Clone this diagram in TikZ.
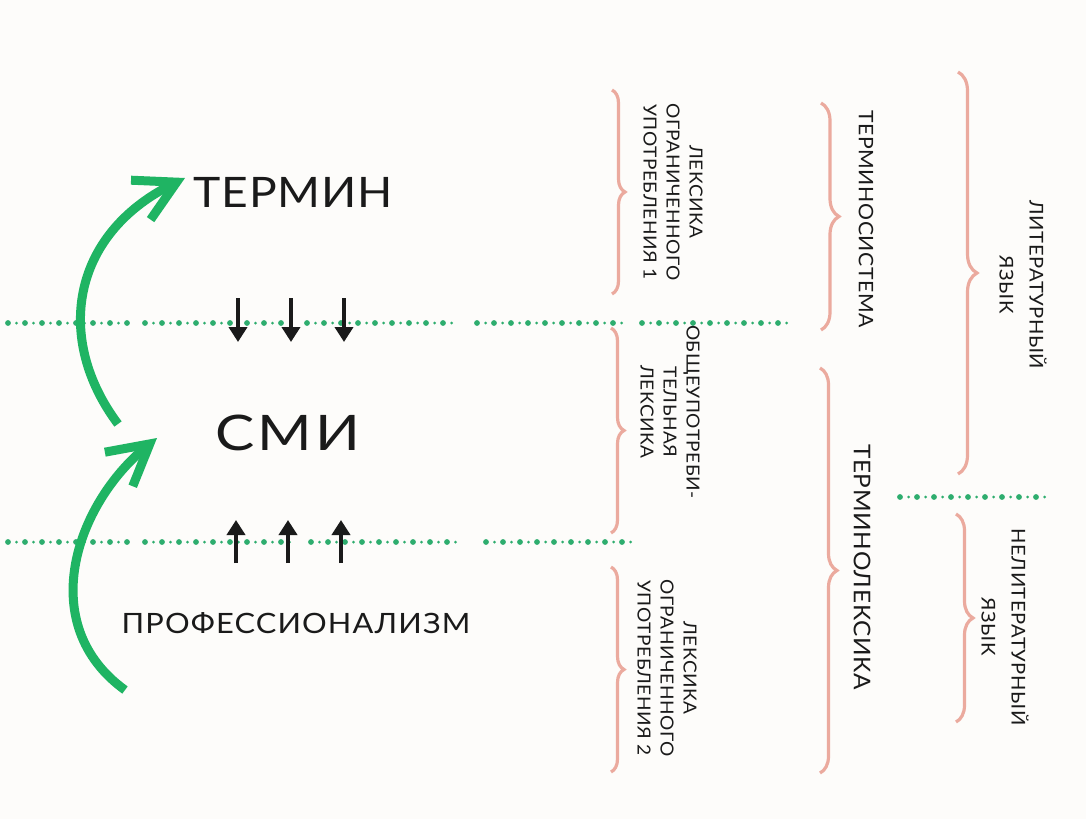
\documentclass[tikz,border=0pt]{standalone}
\usepackage{fontspec}
\setmainfont{Lato}
\usetikzlibrary{positioning, arrows.meta, decorations.pathreplacing}
\definecolor{paper}{HTML}{FDFCFA}
\definecolor{arcgreen}{HTML}{1FB463}
\definecolor{dotgreen}{HTML}{2EAD6E}
\definecolor{bracepink}{HTML}{EBAA9E}
\definecolor{ink}{HTML}{1A1A1A}
% one dotted separator: big and small dots in turn
\newcommand{\dotrow}[3]{%
  \draw[bigdot] (#1,#3) -- (#2,#3);
  \draw[smalldot] (#1,#3) -- (#2,#3);}

\begin{document}
\begin{tikzpicture}[x=1pt, y=-1pt,
    bigdot/.style={dotgreen, line width=5.8pt, line cap=round, dash pattern=on 0pt off 17pt},
    smalldot/.style={dotgreen, line width=3pt, line cap=round, dash pattern=on 0pt off 17pt, dash phase=8.5pt},
    word/.style n args={3}{text=ink, inner sep=0pt, anchor=base, font=\fontsize{#1}{#1}\selectfont\addfontfeature{FakeStretch=#2, LetterSpace=#3}},
    col/.style 2 args={rotate=-90, align=center, text=ink, inner sep=0pt, font=\fontsize{#1}{#2}\selectfont\addfontfeature{FakeStretch=1.06, LetterSpace=3}},
    brc/.style={draw=bracepink, line width=3.2pt, decorate, decoration={brace, amplitude=#1}},
    swing/.style={arcgreen, line width=9pt, -{Straight Barb[length=40pt, width=44pt]}},
    push/.style={ink, line width=3.8pt, -{Triangle[length=15pt, width=18pt]}},
]
\fill[paper] (0,0) rectangle (1086,819);
\useasboundingbox (0,0) rectangle (1086,819);

% separators
\dotrow{8}{130}{323} \dotrow{145}{285}{323} \dotrow{307}{457}{323}
\dotrow{477}{627}{323} \dotrow{642}{792}{323}
\dotrow{8}{127}{542} \dotrow{145}{297}{542} \dotrow{311}{459}{542}
\dotrow{486}{632}{542}
\dotrow{900}{1050}{497}

% left part
\node[word={42}{1.1}{2}] (term) at (293,207) {ТЕРМИН};
\node[word={49}{1.2}{6}] (smi) at (288,450) {СМИ};
\node[word={28}{1.1}{4}] (prof) at (296,633) {ПРОФЕССИОНАЛИЗМ};

\coordinate (smiTail) at (118,424);
\coordinate (termHead) at (185,178);
\coordinate (profTail) at (125,690);
\coordinate (smiHead) at (157,438);
\draw[swing] (smiTail) .. controls (55,340) and (70,235) .. (termHead);
\draw[swing] (profTail) .. controls (35,625) and (75,505) .. (smiHead);

\foreach \x in {238,291,344} \draw[push] (\x,298) -- (\x,342);
\foreach \x in {236,288,341} \draw[push] (\x,563) -- (\x,520);

% columns of vertical labels
\node[col={18}{23}] (lexA) at (673,192) {ЛЕКСИКА\\ОГРАНИЧЕННОГО\\УПОТРЕБЛЕНИЯ 1};
\node[col={18}{23}] (common) at (670,412) {ОБЩЕУПОТРЕБИ-\\ТЕЛЬНАЯ\\ЛЕКСИКА};
\node[col={18}{23}] (lexB) at (667,668) {ЛЕКСИКА\\ОГРАНИЧЕННОГО\\УПОТРЕБЛЕНИЯ 2};
\node[col={20}{24}] (tsys) at (866,219) {ТЕРМИНОСИСТЕМА};
\node[col={23}{26}] (tlex) at (862,567) {ТЕРМИНОЛЕКСИКА};
\node[col={19}{30}] (lit) at (1023,285) {ЛИТЕРАТУРНЫЙ\\ЯЗЫК};
\node[col={19}{30}] (nonlit) at (1005,627) {НЕЛИТЕРАТУРНЫЙ\\ЯЗЫК};

% braces
\draw[brc=13] (612,90) -- (612,294);
\draw[brc=13] (611,328) -- (611,533);
\draw[brc=13] (611,567) -- (611,772);
\draw[brc=18] (821,103) -- (821,330);
\draw[brc=17] (820,368) -- (820,773);
\draw[brc=19] (958,72) -- (958,474);
\draw[brc=17] (956,514) -- (956,722);
\end{tikzpicture}
\end{document}
